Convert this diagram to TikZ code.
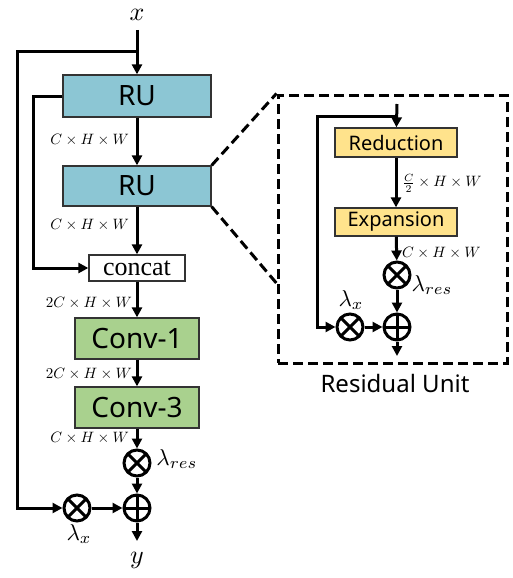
\documentclass[tikz,border=0pt]{standalone}
\usepackage{fontspec}
\usepackage{graphicx}
\usetikzlibrary{arrows.meta}
\newfontfamily\boxfont{Noto Sans}
\newfontfamily\catfont{Liberation Serif}
\definecolor{rublue}{HTML}{8CC6D4}
\definecolor{convgreen}{HTML}{A9D18E}
\definecolor{unityellow}{HTML}{FFE38C}
\newcommand{\dimtext}[1]{\scalebox{1.5}{$#1$}}
\newcommand{\lamtext}[1]{\scalebox{2.3}{$\lambda_{#1}$}}

\begin{document}
\begin{tikzpicture}[x=1pt, y=-1pt,
  flow/.style={line width=3pt, -{Triangle[length=10pt,width=10pt]}},
  block/.style={draw=black!80, line width=1.3pt, inner sep=0pt, font=\boxfont\fontsize{28}{30}\selectfont},
  unit/.style={block, fill=unityellow, minimum width=122pt, font=\boxfont\fontsize{20}{22}\selectfont},
  dims/.style={inner sep=1pt, font=\fontsize{10}{12}\selectfont},
  lam/.style={inner sep=0pt, font=\fontsize{10}{12}\selectfont},
  io/.style={inner sep=0pt, font=\fontsize{10}{12}\selectfont},
  insetdash/.style={line width=3pt, dash pattern=on 10pt off 5pt},
  opmul/.style={circle, draw, line width=3pt, minimum size=26pt, inner sep=0pt,
    path picture={\draw[line width=3pt] (path picture bounding box.north west) -- (path picture bounding box.south east)
      (path picture bounding box.north east) -- (path picture bounding box.south west);}},
  opadd/.style={circle, draw, line width=3pt, minimum size=26pt, inner sep=0pt,
    path picture={\draw[line width=3pt] (path picture bounding box.north) -- (path picture bounding box.south)
      (path picture bounding box.east) -- (path picture bounding box.west);}}]
\useasboundingbox (0,0) rectangle (513,578);

% Main branch
\node[io] (xin) at (137,15) {\scalebox{2.6}{$x$}};
\coordinate (xtop) at (137,30);
\coordinate (xsplit) at (137,52);
\coordinate (skipcorner) at (17,52);
\node[block, fill=rublue, minimum width=148pt, minimum height=42pt] (ru1) at (137,96) {RU};
\node[block, fill=rublue, minimum width=148pt, minimum height=40pt] (ru2) at (137,186) {RU};
\node[block, fill=white, minimum width=96pt, minimum height=26pt, font=\catfont\fontsize{26}{28}\selectfont] (concat) at (137,268) {concat};
\node[block, fill=convgreen, minimum width=124pt, minimum height=41pt] (conv1) at (137,338.5) {Conv-1};
\node[block, fill=convgreen, minimum width=124pt, minimum height=41pt] (conv3) at (137,407.5) {Conv-3};
\node[opmul] (mres) at (137,463) {};
\node[opadd] (add) at (137,508) {};
\node[opmul] (mx) at (77,508) {};
\coordinate (yend) at (137,541);
\node[io] (yout) at (137,560) {\scalebox{2.6}{$y$}};
\coordinate (denseturn) at (33,96);

\draw[flow] (xtop) -- (ru1);
\draw[flow] (xsplit) -- (skipcorner) |- (mx);
\draw[flow] (ru1) -- (ru2);
\draw[flow] (ru1.west) -- (denseturn) |- (concat);
\draw[flow] (ru2) -- (concat);
\draw[flow] (concat) -- (conv1);
\draw[flow] (conv1) -- (conv3);
\draw[flow] (conv3) -- (mres);
\draw[flow] (mres) -- (add);
\draw[flow] (mx) -- (add);
\draw[flow] (add) -- (yend);

% Feature sizes
\node[dims, anchor=east] (d1) at (130,140) {\dimtext{C\times H\times W}};
\node[dims, anchor=east] (d2) at (130,225) {\dimtext{C\times H\times W}};
\node[dims, anchor=east] (d3) at (133,303) {\dimtext{2C\times H\times W}};
\node[dims, anchor=east] (d4) at (133,374) {\dimtext{2C\times H\times W}};
\node[dims, anchor=east] (d5) at (130,438) {\dimtext{C\times H\times W}};
\node[lam] (lres) at (177,459) {\lamtext{res}};
\node[lam] (lx) at (79,534) {\lamtext{x}};

% Zoomed residual unit
\node[draw, insetdash, minimum width=229pt, minimum height=268pt] (inset) at (392.5,229) {};
\coordinate (zoomlow) at (278,285);
\draw[insetdash] (ru2.north east) -- (inset.north west);
\draw[insetdash] (ru2.south east) -- (zoomlow);
\node[font=\boxfont\fontsize{24}{26}\selectfont] (rutitle) at (395,383) {Residual Unit};

\coordinate (rin) at (397,104);
\coordinate (rsplit) at (397,116);
\coordinate (rcorner) at (317,116);
\node[unit, minimum height=29pt] (red) at (396,142.5) {Reduction};
\node[unit, minimum height=28pt] (exp) at (396,222) {Expansion};
\node[opmul] (rmres) at (397,275) {};
\node[opadd] (radd) at (397,327) {};
\node[opmul] (rmx) at (350,327) {};
\coordinate (rout) at (397,356);

\draw[flow] (rin) -- (red);
\draw[flow] (rsplit) -- (rcorner) |- (rmx);
\draw[flow] (red) -- (exp);
\draw[flow] (exp) -- (rmres);
\draw[flow] (rmres) -- (radd);
\draw[flow] (rmx) -- (radd);
\draw[flow] (radd) -- (rout);

\node[dims, anchor=west] (rd1) at (401,183) {\dimtext{\frac{C}{2}\times H\times W}};
\node[dims, anchor=west] (rd2) at (401,253) {\dimtext{C\times H\times W}};
\node[lam] (rlres) at (432,285) {\lamtext{res}};
\node[lam] (rlx) at (351,300) {\lamtext{x}};

\end{tikzpicture}
\end{document}
